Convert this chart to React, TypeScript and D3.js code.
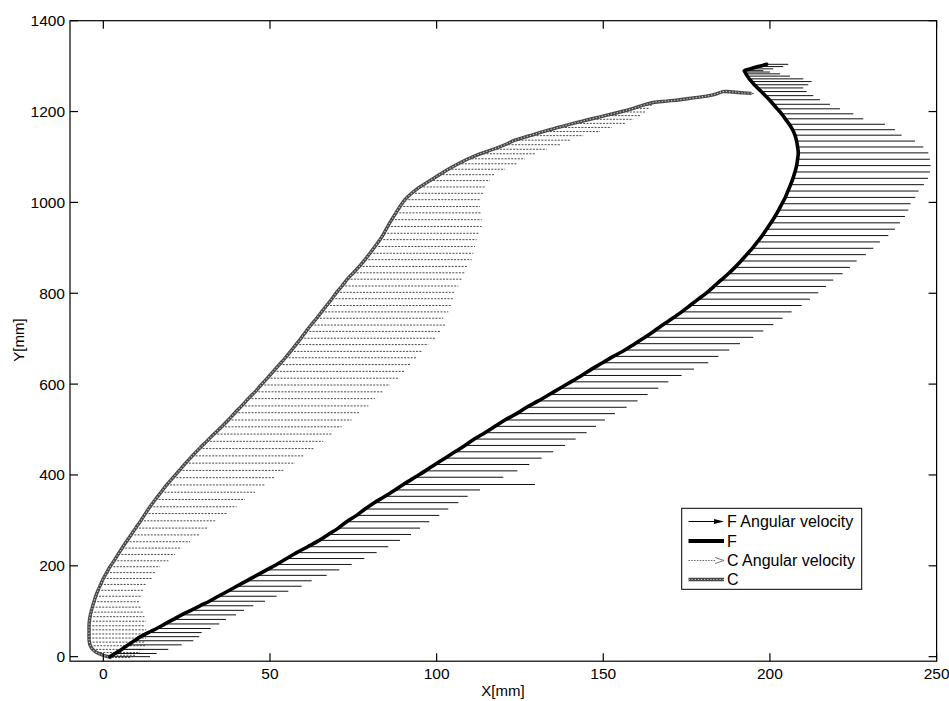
import React from "react";
import * as d3 from "d3";

const W = 949;
const H = 701;

const xTicks = [0, 50, 100, 150, 200, 250];
const yTicks = [0, 200, 400, 600, 800, 1000, 1200, 1400];

// F: position samples [mm] and horizontal angular-velocity component (arrow length)
const fY = [0, 7, 16, 26, 35, 44, 53, 62, 72, 82, 92, 102, 112, 122, 133, 144, 155, 167, 179, 191, 203, 216, 229, 242, 256, 269, 283, 297, 311, 325, 339, 353, 367, 379, 395, 409, 423, 437, 451, 465, 479, 493, 507, 521, 535, 549, 563, 577, 591, 605, 619, 633, 647, 661, 675, 689, 703, 717, 731, 745, 759, 773, 787, 801, 815, 829, 843, 857, 871, 885, 899, 913, 927, 941, 955, 969, 983, 997, 1011, 1025, 1039, 1053, 1067, 1081, 1095, 1109, 1122, 1135, 1148, 1160, 1172, 1184, 1195, 1206, 1216, 1226, 1235, 1244, 1252, 1259, 1266, 1272, 1278, 1283, 1287, 1290, 1294, 1299, 1304];
const fX = [2, 3.5, 5.5, 7.5, 9.3, 11.2, 13.5, 16, 18.5, 21, 23.5, 26.3, 29, 31.8, 34.5, 37.3, 40, 43, 46, 49, 52, 55, 58, 61.3, 64.8, 67.5, 70.5, 73, 76, 78.5, 81.3, 84.5, 87.5, 90, 93.5, 96.6, 99.5, 102.5, 105.5, 108.5, 111.3, 114.5, 117.5, 120.5, 124, 127, 130.5, 133.8, 137, 140.3, 143.5, 146.5, 149.8, 153, 156.5, 159.5, 162.5, 165.3, 168, 170.8, 173.5, 176, 178.5, 181, 183.2, 185.3, 187.5, 189.5, 191.3, 193, 194.7, 196.2, 197.7, 199, 200.3, 201.5, 202.6, 203.6, 204.6, 205.4, 206.2, 206.9, 207.5, 208, 208.3, 208.5, 208.3, 208, 207.5, 206.8, 205.8, 204.6, 203.5, 202.2, 201, 199.8, 198.6, 197.4, 196.3, 195.3, 194.5, 193.8, 193.2, 192.8, 192.5, 192.3, 194, 196.5, 199];
const fU = [12, 12.5, 14, 16, 17.7, 17.6, 16, 16.2, 16.3, 15.8, 16.3, 15.9, 16, 16.7, 17.5, 18.2, 19.5, 19.5, 21, 21.8, 22.5, 23.3, 24, 24.2, 24.2, 24.8, 24.5, 24.8, 24.8, 25, 25.2, 24.8, 25.5, 39.5, 26.5, 27.6, 28.3, 29, 29.5, 30, 30.4, 30.5, 30.3, 30, 29.5, 30, 29.8, 29.5, 29.5, 29.2, 30, 30.7, 31.7, 31.5, 31.3, 31.5, 32.5, 32.7, 33, 33, 33, 33.5, 33.5, 33.5, 33.6, 33.7, 34.3, 34.5, 34.7, 35.8, 36.3, 36.8, 37.8, 38.5, 38.7, 39, 38.9, 38.6, 39, 39.2, 40, 40.5, 40.5, 40.2, 39.7, 39, 37.7, 35.5, 32, 30.7, 28.7, 23.4, 21.5, 18.8, 17, 15.2, 14.4, 13.6, 13.7, 16.2, 18, 16.2, 12.8, 10.2, 7.5, 5.7, 7, 7.5, 6.5];

// C: position samples [mm] and horizontal angular-velocity component (arrow length)
const cY = [-2, 3, 9, 16, 24, 32, 41, 50, 59, 68, 78, 88, 98, 109, 121, 133, 146, 159, 172, 185, 198, 211, 225, 239, 253, 268, 283, 299, 315, 330, 346, 362, 378, 394, 410, 426, 442, 458, 474, 490, 506, 521, 537, 552, 568, 583, 598, 613, 628, 643, 658, 672, 687, 701, 716, 730, 745, 759, 773, 788, 802, 816, 831, 845, 859, 874, 888, 903, 918, 932, 947, 962, 977, 991, 1006, 1020, 1034, 1048, 1061, 1073, 1085, 1096, 1107, 1117, 1127, 1137, 1147, 1156, 1165, 1174, 1183, 1191, 1199, 1207, 1214, 1220, 1223, 1226, 1230, 1234, 1239, 1244, 1243, 1241, 1240];
const cX = [2.5, 0, -2, -3.2, -3.9, -4.2, -4.3, -4.3, -4.3, -4.3, -4.2, -4, -3.7, -3.3, -2.8, -2.3, -1.6, -0.8, 0, 1, 2, 3.2, 4.4, 5.6, 6.9, 8.3, 9.7, 11.2, 12.6, 14, 15.6, 17.3, 19, 20.9, 22.8, 24.7, 26.7, 28.8, 31, 33.2, 35.5, 37.5, 39.5, 41.5, 43.5, 45.5, 47.3, 49.2, 51, 52.8, 54.6, 56.2, 57.8, 59.3, 60.8, 62.3, 64, 65.5, 67, 68.6, 70, 71.6, 73.2, 75, 76.8, 78.5, 80, 81.5, 83, 84.2, 85.3, 86.5, 87.8, 89, 90.5, 92.5, 95, 98, 100.8, 103.5, 106.5, 109.5, 113, 117, 120.5, 123.5, 128, 132, 136.5, 141, 146, 150.5, 155, 159, 162, 165, 169, 173, 177, 181, 184, 186, 189, 192, 194.5];
const cU = [5.5, 9.5, 13, 15.2, 16.4, 16.7, 17.1, 16.8, 17.1, 16.8, 17, 16.3, 15.7, 14.8, 13.8, 13.8, 13.6, 13.8, 14.5, 14.5, 15, 16.3, 17.1, 17.9, 19.1, 20.7, 21.8, 22.6, 24.4, 26, 26.9, 28.2, 29.5, 30.6, 31.2, 32.8, 33.3, 34.2, 35, 35.3, 36, 37, 37.5, 38, 38, 38.5, 38.7, 39.3, 39.5, 39.2, 39.4, 39.3, 39.7, 40.2, 40.2, 40.2, 38, 38, 37.5, 36.4, 35.5, 34.9, 34.3, 33.5, 32.7, 32, 31, 30, 29, 28.3, 28.2, 27, 25.7, 24, 22.5, 21.5, 19.5, 18, 16.7, 17, 17.5, 17, 16.5, 16, 16.5, 16.5, 16, 17, 16, 15.5, 13, 10.5, 7.5, 5, 3, 1.5, 1, 1, 1, 1, 1, 1.5, 1.5, 1.5, 1];

const legendLabels = ["F Angular velocity", "F", "C Angular velocity", "C"];

const FONT = "'Liberation Sans', Arial, Helvetica, sans-serif";

export default function App() {
  const x = d3.scaleLinear().domain([-10, 250]).range([70, 936.6]);
  const y = d3.scaleLinear().domain([-10, 1400]).range([661.2, 20.7]);

  const [x0, x1] = x.range();
  const [y0, y1] = y.range();

  // horizontal velocity vector drawn from its sample point
  const shaft = (px: number, py: number, u: number) =>
    `M${x(px)},${y(py)}L${x(px + u)},${y(py)}`;

  const fPts = fX.map((v, i) => [v, fY[i]] as [number, number]);
  const cPts = cX.map((v, i) => [v, cY[i]] as [number, number]);
  const line = d3
    .line<[number, number]>()
    .x((d) => x(d[0]))
    .y((d) => y(d[1]))
    .curve(d3.curveCatmullRom.alpha(0.5));

  const fArrows = fX.map((v, i) => shaft(v, fY[i], fU[i])).join("");
  const cArrows = cX.map((v, i) => shaft(v, cY[i], cU[i])).join("");

  const tickLen = 8;

  const lg = { x: 681.7, y: 508.3, w: 180, h: 81 };
  const rowY = [521.5, 541, 560.5, 579.5];
  const sx0 = 688.5;
  const sx1 = 724;

  return (
    <svg
      width={W}
      height={H}
      viewBox={`0 0 ${W} ${H}`}
      style={{ position: "absolute", left: 0, top: 0, background: "#fff" }}
      fontFamily={FONT}
    >
      <rect x={0} y={0} width={W} height={H} fill="#fff" />

      {/* C angular velocity vectors (dotted) */}
      <path d={cArrows} fill="none" stroke="#333" strokeWidth={0.9} strokeDasharray="2 1.3" />
      {/* F angular velocity vectors */}
      <path d={fArrows} fill="none" stroke="#111" strokeWidth={1} />

      {/* C trajectory: beaded grey line */}
      <path d={line(cPts) || ""} fill="none" stroke="#474747" strokeWidth={3.4} strokeLinejoin="round" />
      <path d={line(cPts) || ""} fill="none" stroke="#c4c4c4" strokeWidth={1.2} strokeDasharray="1.3 1.8" />

      {/* F trajectory */}
      <path d={line(fPts) || ""} fill="none" stroke="#000" strokeWidth={3.6} strokeLinejoin="round" strokeLinecap="round" />

      {/* axes box */}
      <rect x={x0} y={y1} width={x1 - x0} height={y0 - y1} fill="none" stroke="#000" strokeWidth={1.2} />

      {xTicks.map((t) => (
        <g key={`xt${t}`}>
          <line x1={x(t)} x2={x(t)} y1={y0} y2={y0 - tickLen} stroke="#000" strokeWidth={1.2} />
          <line x1={x(t)} x2={x(t)} y1={y1} y2={y1 + tickLen} stroke="#000" strokeWidth={1.2} />
          <text x={x(t)} y={673.5} textAnchor="middle" dominantBaseline="central" fontSize={15.5} fill="#000">
            {t}
          </text>
        </g>
      ))}
      {yTicks.map((t) => (
        <g key={`yt${t}`}>
          <line x1={x0} x2={x0 + tickLen} y1={y(t)} y2={y(t)} stroke="#000" strokeWidth={1.2} />
          <line x1={x1} x2={x1 - tickLen} y1={y(t)} y2={y(t)} stroke="#000" strokeWidth={1.2} />
          <text x={65} y={y(t)} textAnchor="end" dominantBaseline="central" fontSize={15.5} fill="#000">
            {t}
          </text>
        </g>
      ))}

      <text x={503} y={690} textAnchor="middle" dominantBaseline="central" fontSize={15} fill="#000">
        X[mm]
      </text>
      <text
        x={0}
        y={0}
        transform={`translate(18,340) rotate(-90)`}
        textAnchor="middle"
        dominantBaseline="central"
        fontSize={15}
        fill="#000"
      >
        Y[mm]
      </text>

      {/* legend */}
      <rect x={lg.x} y={lg.y} width={lg.w} height={lg.h} fill="#fff" stroke="#000" strokeWidth={1} />
      <line x1={sx0} x2={sx1 - 9} y1={rowY[0]} y2={rowY[0]} stroke="#000" strokeWidth={1} />
      <path
        d={`M${sx1 - 10},${rowY[0] - 2.6}L${sx1},${rowY[0]}L${sx1 - 10},${rowY[0] + 2.6}Z`}
        fill="#000"
      />
      <line x1={sx0} x2={sx1} y1={rowY[1]} y2={rowY[1]} stroke="#000" strokeWidth={4} />
      <line
        x1={sx0}
        x2={sx1 - 8}
        y1={rowY[2]}
        y2={rowY[2]}
        stroke="#555"
        strokeWidth={0.9}
        strokeDasharray="1.5 1.3"
      />
      <path
        d={`M${sx1 - 9},${rowY[2] - 3}L${sx1},${rowY[2]}L${sx1 - 9},${rowY[2] + 3}`}
        fill="none"
        stroke="#777"
        strokeWidth={1}
      />
      <line x1={sx0} x2={sx1} y1={rowY[3]} y2={rowY[3]} stroke="#474747" strokeWidth={3.4} />
      <line
        x1={sx0}
        x2={sx1}
        y1={rowY[3]}
        y2={rowY[3]}
        stroke="#c4c4c4"
        strokeWidth={1.2}
        strokeDasharray="1.3 1.8"
      />
      {legendLabels.map((s, i) => (
        <text key={s} x={727} y={rowY[i]} dominantBaseline="central" fontSize={16} fill="#000">
          {s}
        </text>
      ))}
    </svg>
  );
}
